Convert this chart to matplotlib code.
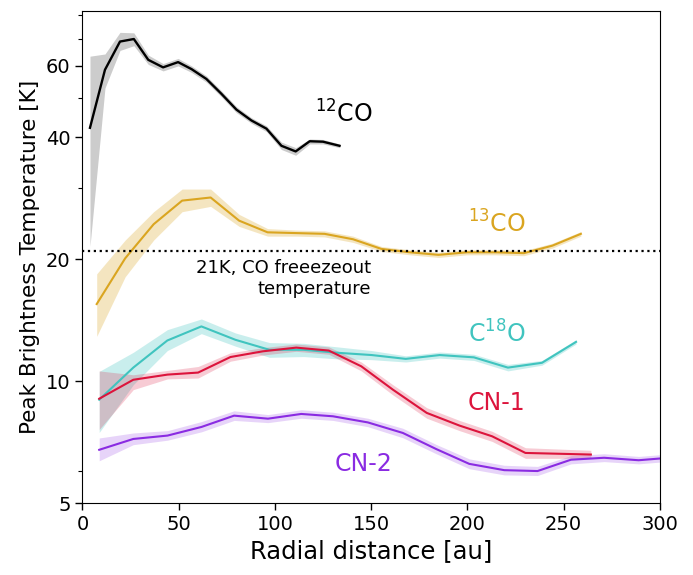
import matplotlib
matplotlib.use('Agg')
import matplotlib.pyplot as plt
from matplotlib.ticker import FixedLocator, NullFormatter

# radial profiles of peak brightness temperature (au, K)
r_12co = [3.9, 11.7, 19.5, 26.7, 34.2, 41.9, 49.7, 56.7, 64.4, 72.2, 80.0, 87.8, 95.6, 103.4, 110.8, 118.1, 125.0, 133.6]
t_12co = [42.2, 58.7, 68.9, 69.9, 62.1, 59.5, 61.3, 58.9, 55.7, 51.2, 46.8, 44.0, 42.0, 38.1, 36.9, 39.1, 39.0, 38.1]
lo_12co = [21.5, 52.9, 65.5, 67.3, 60.5, 58.3, 60.0, 57.8, 54.7, 50.3, 46.0, 43.3, 41.3, 37.3, 36.1, 38.5, 38.5, 37.7]
hi_12co = [63.4, 64.2, 72.6, 72.4, 63.8, 60.8, 62.6, 60.0, 56.7, 52.1, 47.6, 44.7, 42.7, 38.9, 37.7, 39.6, 39.5, 38.5]

r_13co = [7.4, 22.2, 37.0, 51.8, 66.6, 81.4, 96.2, 111.0, 125.8, 140.6, 155.4, 170.2, 185.0, 199.8, 214.6, 229.4, 244.2, 259.0]
t_13co = [15.5, 20.1, 24.4, 27.9, 28.4, 24.9, 23.3, 23.2, 23.1, 22.4, 21.2, 20.8, 20.5, 20.8, 20.8, 20.7, 21.6, 23.1]
lo_13co = [12.9, 18.1, 22.3, 26.2, 27.0, 24.1, 22.8, 22.8, 22.7, 22.0, 20.9, 20.5, 20.2, 20.5, 20.5, 20.4, 21.3, 22.8]
hi_13co = [18.4, 22.3, 26.2, 29.8, 29.8, 25.8, 23.8, 23.6, 23.5, 22.8, 21.5, 21.1, 20.8, 21.1, 21.1, 21.0, 21.9, 23.4]

r_c18o = [8.7, 26.4, 44.1, 61.8, 79.5, 97.2, 114.9, 132.6, 150.3, 168.0, 185.7, 203.4, 221.1, 238.8, 256.5]
t_c18o = [9.0, 10.8, 12.6, 13.65, 12.65, 11.95, 11.95, 11.75, 11.6, 11.35, 11.6, 11.45, 10.8, 11.1, 12.5]
lo_c18o = [7.47, 9.8, 11.9, 13.1, 12.2, 11.45, 11.5, 11.35, 11.3, 11.15, 11.4, 11.25, 10.6, 10.95, 12.35]
hi_c18o = [10.57, 11.78, 13.4, 14.24, 13.15, 12.45, 12.4, 12.15, 11.9, 11.55, 11.8, 11.65, 11.0, 11.25, 12.65]

r_cn1 = [8.7, 26.4, 44.2, 60.1, 76.9, 93.8, 111.1, 128.0, 144.9, 161.3, 178.9, 195.9, 212.9, 230.2, 247.2, 264.2]
t_cn1 = [9.05, 10.08, 10.38, 10.5, 11.47, 11.85, 12.1, 11.9, 10.88, 9.53, 8.35, 7.77, 7.31, 6.65, 6.62, 6.59]
lo_cn1 = [7.6, 9.53, 10.13, 10.18, 11.2, 11.6, 11.85, 11.65, 10.6, 9.25, 8.1, 7.55, 7.1, 6.45, 6.45, 6.45]
hi_cn1 = [10.6, 10.37, 10.63, 10.87, 11.75, 12.1, 12.35, 12.15, 11.15, 9.8, 8.6, 8.0, 7.52, 6.85, 6.8, 6.75]

r_cn2 = [8.7, 26.4, 44.2, 61.9, 78.8, 96.4, 113.7, 130.2, 148.3, 166.5, 183.8, 201.0, 219.2, 236.5, 253.9, 271.1, 289.0, 306.5]
t_cn2 = [6.77, 7.2, 7.34, 7.71, 8.22, 8.08, 8.30, 8.19, 7.91, 7.45, 6.80, 6.25, 6.03, 6.0, 6.4, 6.47, 6.38, 6.48]
lo_cn2 = [6.36, 6.97, 7.15, 7.5, 8.0, 7.9, 8.1, 8.0, 7.72, 7.25, 6.62, 6.08, 5.87, 5.85, 6.25, 6.33, 6.25, 6.35]
hi_cn2 = [7.24, 7.45, 7.55, 7.95, 8.45, 8.27, 8.5, 8.38, 8.1, 7.65, 6.98, 6.43, 6.2, 6.16, 6.55, 6.62, 6.52, 6.62]

t_freeze = 21.0

teal = '#40c4bf'

fig = plt.figure(figsize=(6.93, 5.75), dpi=100)
ax = fig.add_axes([0.119, 0.125, 0.833, 0.856])

series = [
    (r_12co, t_12co, lo_12co, hi_12co, 'black', 1.7, 0.2),
    (r_13co, t_13co, lo_13co, hi_13co, 'goldenrod', 1.5, 0.28),
    (r_c18o, t_c18o, lo_c18o, hi_c18o, teal, 1.5, 0.28),
    (r_cn1, t_cn1, lo_cn1, hi_cn1, 'crimson', 1.5, 0.22),
    (r_cn2, t_cn2, lo_cn2, hi_cn2, 'blueviolet', 1.5, 0.2),
]
for r, t, lo, hi, col, lw, a in series:
    ax.fill_between(r, lo, hi, color=col, alpha=a, lw=0)
    ax.plot(r, t, color=col, lw=lw)

ax.axhline(t_freeze, color='black', ls=':', lw=1.6)
ax.text(150.2, 20.0, '21K, CO freeezeout\ntemperature', ha='right', va='top',
        multialignment='right', fontsize=13)

ax.text(120.7, 43.4, r'$^{12}$CO', fontsize=17, color='black', va='baseline')
ax.text(200.5, 23.2, r'$^{13}$CO', fontsize=17, color='goldenrod', va='baseline')
ax.text(200.2, 12.43, r'C$^{18}$O', fontsize=17, color=teal, va='baseline')
ax.text(200.2, 8.5, 'CN-1', fontsize=17, color='crimson', va='baseline')
ax.text(131, 5.99, 'CN-2', fontsize=17, color='blueviolet', va='baseline')

ax.set_yscale('log')
ax.set_xlim(0, 300)
ax.set_ylim(5, 82)
ax.yaxis.set_major_locator(FixedLocator([5, 10, 20, 40, 60]))
ax.yaxis.set_minor_locator(FixedLocator([6, 30, 50, 70, 80]))
ax.yaxis.set_minor_formatter(NullFormatter())
ax.set_yticklabels(['5', '10', '20', '40', '60'])
ax.set_xticks([0, 50, 100, 150, 200, 250, 300])
ax.tick_params(labelsize=14, length=5, width=1)
ax.tick_params(which='minor', length=3, width=0.8)

ax.set_xlabel('Radial distance [au]', fontsize=17.5)
ax.set_ylabel('Peak Brightness Temperature [K]', fontsize=15.5)

plt.savefig('out.png', dpi=100)
